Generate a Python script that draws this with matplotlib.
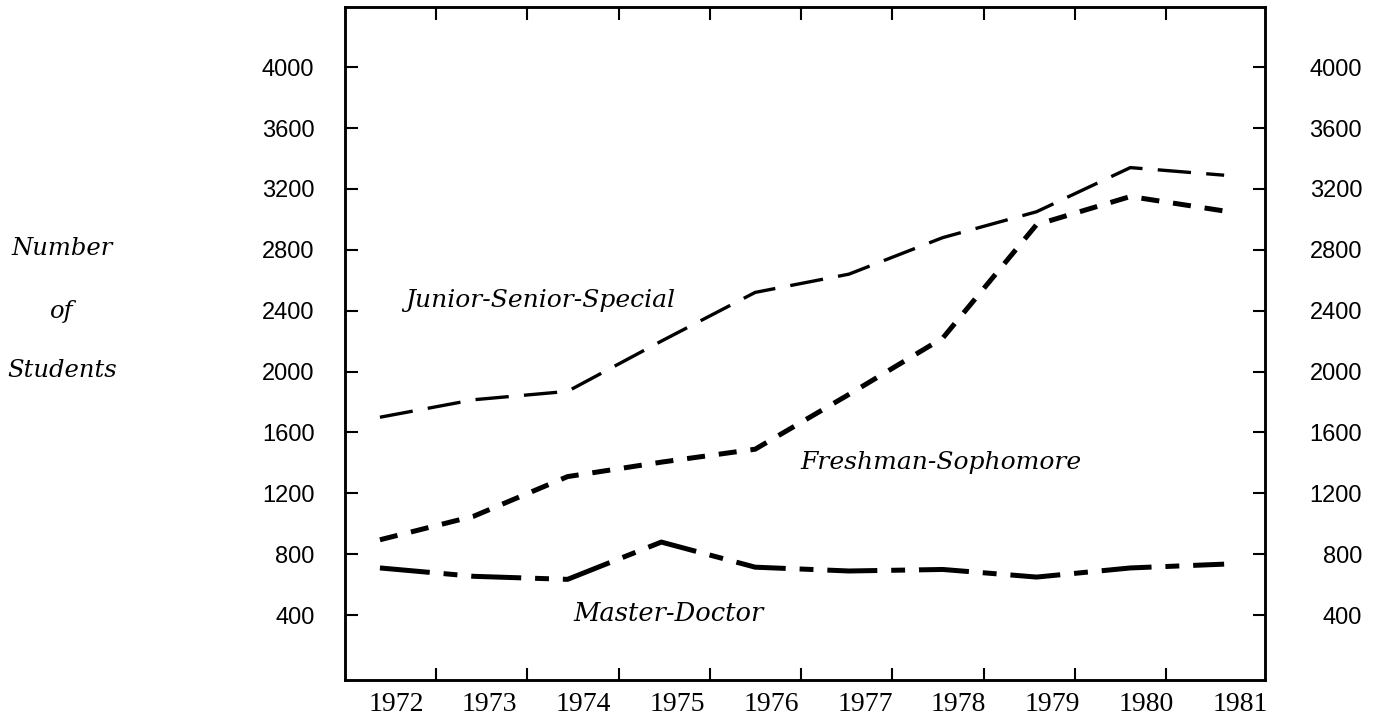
import numpy as np
import matplotlib
matplotlib.use('Agg')
import matplotlib.pyplot as plt

# ===== data =====
years = [1972, 1973, 1974, 1975, 1976, 1977, 1978, 1979, 1980, 1981]
junior_senior = [1700, 1815, 1870, 2200, 2520, 2640, 2880, 3050, 3340, 3290]
fresh_soph = [895, 1050, 1310, 1405, 1490, 1850, 2220, 2965, 3150, 3055]
master_doctor = [710, 655, 635, 880, 715, 690, 700, 650, 710, 735]
y_ticks = [400, 800, 1200, 1600, 2000, 2400, 2800, 3200, 3600, 4000]

plt.rcParams['lines.scale_dashes'] = False

fig = plt.figure(figsize=(13.82, 7.22), dpi=100)
ax = fig.add_axes([0.2496, 0.0582, 0.9153 - 0.2496, 0.9903 - 0.0582])

ax.plot(years, junior_senior, color='black', lw=2.4, dashes=(24, 11))
ax.plot(years, fresh_soph, color='black', lw=3.6, dashes=(13, 10))
ax.plot(years, master_doctor, color='black', lw=3.6, dashes=(36, 10, 10, 10))

ax.set_xlim(1971.627, 1981.435)
ax.set_ylim(-26, 4395)

# tick marks sit between the years, labels sit near each year
ax.set_xticks(np.linspace(1972.6, 1980.38, 9))
ax.set_xticklabels([])
ax.set_xticks([y + 0.17 for y in years], minor=True)
ax.set_xticklabels([str(y) for y in years], minor=True,
                   family='Liberation Serif', fontsize=20)
ax.tick_params(axis='x', which='major', direction='in', length=9, width=1.5,
               top=True, bottom=True)
ax.tick_params(axis='x', which='minor', length=0, pad=9)

# left scale
ax.set_yticks(y_ticks)
ax.set_yticklabels([str(v) for v in y_ticks], family='Liberation Sans', fontsize=17)
ax.tick_params(axis='y', direction='in', length=9, width=1.5, pad=22)

# right scale, labels right-aligned like the left ones
ax2 = ax.twinx()
ax2.set_ylim(ax.get_ylim())
ax2.set_yticks(y_ticks)
ax2.set_yticklabels([str(v) for v in y_ticks], family='Liberation Sans', fontsize=17,
                    ha='right')
ax2.tick_params(axis='y', direction='in', length=9, width=1.5, pad=70)

for a in (ax, ax2):
    for s in a.spines.values():
        s.set_linewidth(1.8)

txt = dict(family='DejaVu Serif', style='italic', color='black')
ax.text(1972.27, 2470, 'Junior-Senior-Special', ha='left', va='center', fontsize=18, **txt)
ax.text(1976.48, 1400, 'Freshman-Sophomore', ha='left', va='center', fontsize=18, **txt)
ax.text(1974.06, 414, 'Master-Doctor', ha='left', va='center', fontsize=18.5, **txt)

fig.text(0.045, 0.6565, 'Number', ha='center', va='center', fontsize=17.5, **txt)
fig.text(0.045, 0.568, 'of', ha='center', va='center', fontsize=17.5, **txt)
fig.text(0.045, 0.4875, 'Students', ha='center', va='center', fontsize=17.5, **txt)

plt.savefig('out.png', dpi=100)
